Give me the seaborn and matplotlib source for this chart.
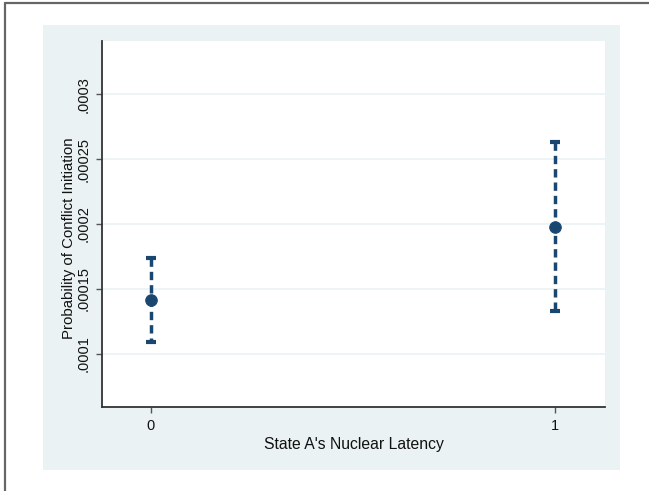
import matplotlib
matplotlib.use("Agg")
import matplotlib.pyplot as plt
from matplotlib.patches import Rectangle
from matplotlib.lines import Line2D
import pandas as pd
import seaborn as sns

# Predicted probability of conflict initiation with 95% confidence limits
latency = [0, 1]
estimate = [0.0001413, 0.0001977]
lower = [0.0001089, 0.0001328]
upper = [0.0001737, 0.0002633]

y_ticks = [0.0001, 0.00015, 0.0002, 0.00025, 0.0003]
y_tick_labels = [".0001", ".00015", ".0002", ".00025", ".0003"]
x_ticks = [0, 1]
x_tick_labels = ["0", "1"]

df = pd.DataFrame({"latency": latency, "estimate": estimate,
                   "lower": lower, "upper": upper})

sns.set_theme(style="white")
plt.rcParams["font.family"] = ["Liberation Sans", "DejaVu Sans"]
plt.rcParams["lines.scale_dashes"] = False

navy = "#1a476f"
region_bg = "#eaf2f3"
grid_col = "#eaf2f3"

W, H = 649, 491
fig = plt.figure(figsize=(W / 100, H / 100), dpi=100)
fig.patch.set_facecolor("white")

def fx(px):
    return px / W

def fy(py):
    return 1 - py / H

# graph region background
fig.patches.append(Rectangle((fx(43), fy(470)), fx(620) - fx(43), fy(25) - fy(470),
                             transform=fig.transFigure, facecolor=region_bg,
                             edgecolor="none", zorder=-10))
# outer frame (top and left edges)
fig.lines.append(Line2D([fx(5), fx(649)], [fy(3), fy(3)], transform=fig.transFigure,
                        color="#666666", lw=1.6, zorder=-5))
fig.lines.append(Line2D([fx(5), fx(5)], [fy(3), fy(491)], transform=fig.transFigure,
                        color="#666666", lw=1.6, zorder=-5))

ax = fig.add_axes([fx(102), fy(407), fx(605) - fx(102), fy(41) - fy(407)])
ax.set_zorder(1)
ax.set_facecolor("white")

# confidence intervals: dashed spikes drawn from the upper limit downward
for _, row in df.iterrows():
    ax.plot([row["latency"], row["latency"]], [row["upper"], row["lower"]],
            color=navy, lw=2.5, linestyle=(0, (6.0, 3.6)),
            solid_capstyle="butt", dash_capstyle="butt", zorder=3)
# caps at both limits
sns.scatterplot(x=df["latency"].tolist() * 2, y=df["upper"].tolist() + df["lower"].tolist(),
                ax=ax, marker="_", s=45, linewidth=3.0, color=navy, zorder=3,
                legend=False)

# point estimates
sns.scatterplot(data=df, x="latency", y="estimate", ax=ax, color=navy,
                edgecolor=navy, s=70, zorder=4, legend=False)

ax.set_xlim(-0.121, 1.124)
ax.set_ylim(0.0000587, 0.0003413)

ax.set_yticks(y_ticks)
ax.set_yticklabels(y_tick_labels, rotation=90, va="center", fontsize=10.5)
ax.set_xticks(x_ticks)
ax.set_xticklabels(x_tick_labels, fontsize=10.5)

ax.yaxis.grid(True, color=grid_col, lw=1.2)
ax.xaxis.grid(False)
ax.set_axisbelow(True)

for side in ["top", "right"]:
    ax.spines[side].set_visible(False)
for side in ["left", "bottom"]:
    ax.spines[side].set_color("#333333")
    ax.spines[side].set_linewidth(1.3)

ax.tick_params(axis="both", which="major", direction="out", length=4.5, width=1,
               color="#555555", labelcolor="#111111", left=True, bottom=True, pad=4)

ax.set_xlabel("State A's Nuclear Latency", fontsize=11.3, color="#111111", labelpad=3)
ax.set_ylabel("Probability of Conflict Initiation", fontsize=10.8, color="#111111")
ax.yaxis.set_label_coords(-0.052, 0.46)

fig.savefig("out.png", dpi=100, facecolor=fig.get_facecolor())
